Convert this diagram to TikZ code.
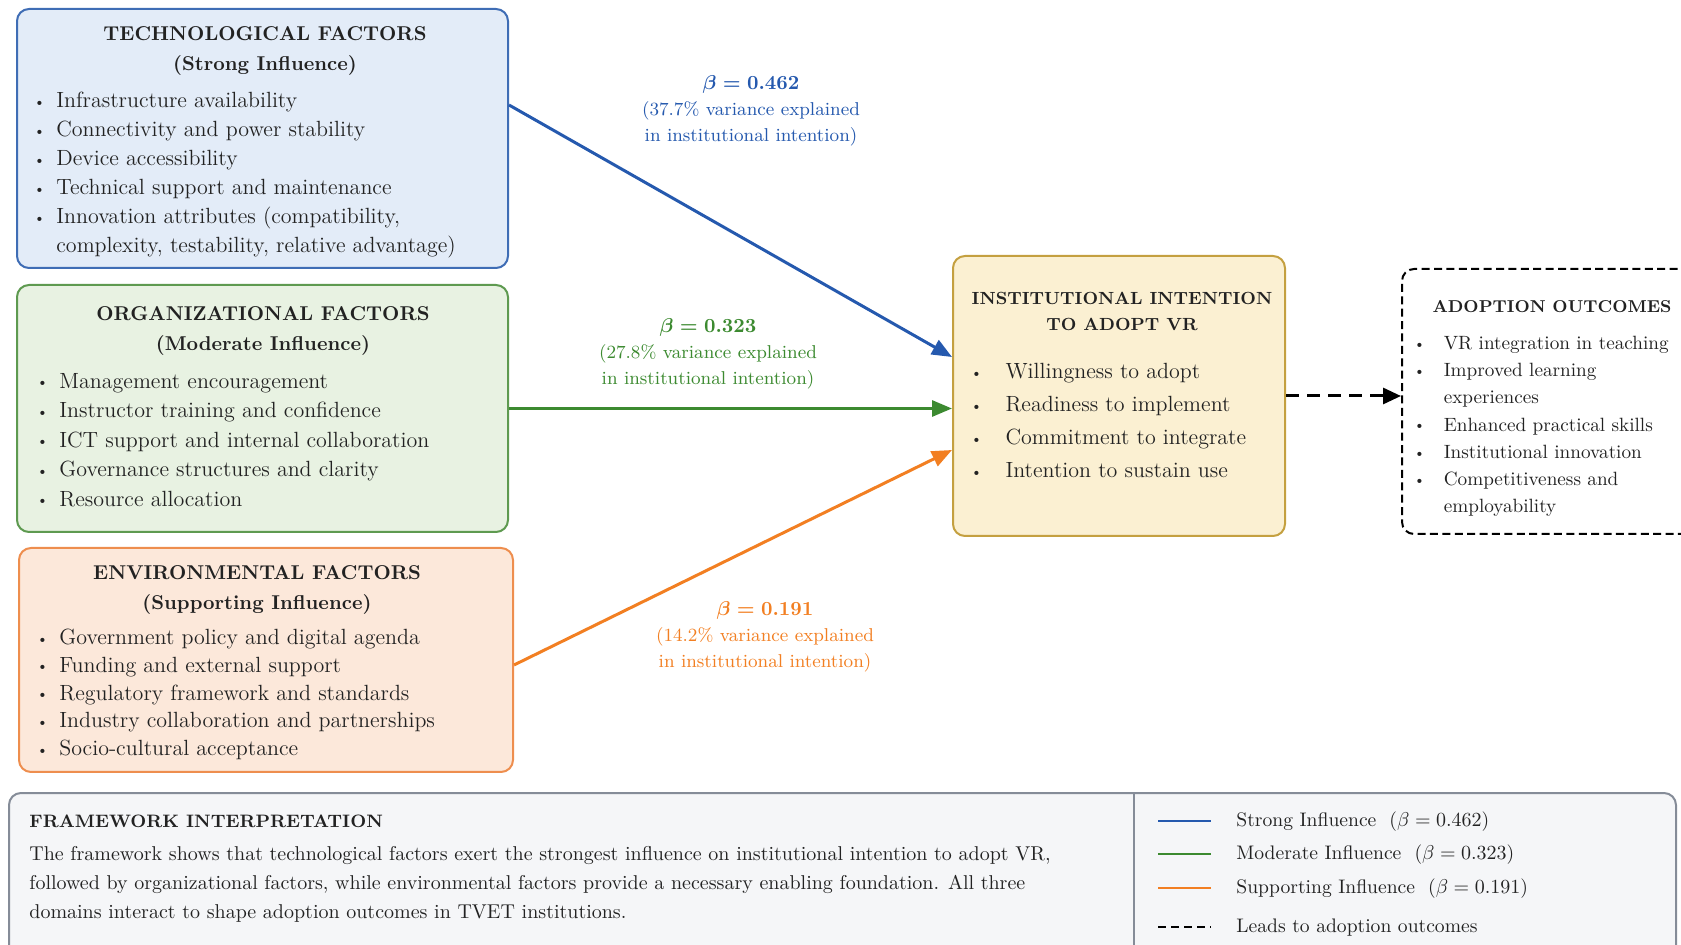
\documentclass[tikz,border=0pt]{standalone}
\usepackage{amsmath}
\usepackage{amssymb}
\usetikzlibrary{arrows.meta}

\definecolor{strongblue}{HTML}{2559AE}
\definecolor{techfill}{HTML}{E3ECF8}
\definecolor{techline}{HTML}{3F6DB5}
\definecolor{modgreen}{HTML}{3C8A30}
\definecolor{orgfill}{HTML}{E8F2E2}
\definecolor{orgline}{HTML}{5E9A50}
\definecolor{suporange}{HTML}{F27F22}
\definecolor{envfill}{HTML}{FCE8DA}
\definecolor{envline}{HTML}{EE8E4E}
\definecolor{intentfill}{HTML}{FBF0D2}
\definecolor{intentline}{HTML}{C4A040}
\definecolor{notefill}{HTML}{F5F6F8}
\definecolor{noteline}{HTML}{858C98}
\definecolor{inktext}{HTML}{222222}

\newcommand{\itembul}[1][11.5pt]{\makebox[#1][l]{\raisebox{.15ex}{\scriptsize\textbullet}}}
\newcommand{\itempad}[1][11.5pt]{\hspace*{#1}}

\begin{document}
\begin{tikzpicture}[x=0.5pt, y=-0.5pt, text=inktext,
	factor/.style={rectangle, rounded corners=6pt, line width=1pt, inner sep=0pt},
	heading/.style={align=center, inner sep=0pt, font=\bfseries\fontsize{10}{15}\selectfont},
	items/.style={anchor=west, align=left, inner sep=0pt, font=\fontsize{11}{14.5}\selectfont},
	betalabel/.style={align=center, inner sep=0pt, font=\fontsize{9.3}{13}\selectfont},
	influence/.style={line width=1.5pt, -{Triangle[length=10pt,width=8pt]}},
	legendline/.style={line width=1.4pt},
	legendtext/.style={anchor=west, inner sep=0pt, font=\fontsize{9.8}{12}\selectfont}]
	\useasboundingbox (0,0) rectangle (1681,945);
	% boxes
	\node[factor, draw=techline, fill=techfill, minimum width=245.5pt, minimum height=129.5pt] (tech) at (262.5,138.5) {};
	\node[factor, draw=orgline, fill=orgfill, minimum width=245.5pt, minimum height=123.5pt] (org) at (262.5,408.5) {};
	\node[factor, draw=envline, fill=envfill, minimum width=247pt, minimum height=112pt] (env) at (266,660) {};
	\node[factor, draw=intentline, fill=intentfill, minimum width=166pt, minimum height=140pt] (intent) at (1119,396) {};
	\node[factor, draw=black, fill=white, dash pattern=on 4pt off 2.2pt, minimum width=150pt, minimum height=132.5pt] (outcome) at (1552,401.5) {};
	\node[factor, draw=noteline, fill=notefill, minimum width=833.5pt, minimum height=96pt] (note) at (842.5,889) {};
	% technological
	\node[heading] (techtitle) at (265,51) {TECHNOLOGICAL FACTORS\\(Strong Influence)};
	\node[items] (techlist) at (33,175.5) {\itembul Infrastructure availability\\
		\itembul Connectivity and power stability\\
		\itembul Device accessibility\\
		\itembul Technical support and maintenance\\
		\itembul Innovation attributes (compatibility,\\
		\itempad complexity, testability, relative advantage)};
	% organizational
	\node[heading] (orgtitle) at (263,331.5) {ORGANIZATIONAL FACTORS\\(Moderate Influence)};
	\node[items, font=\fontsize{11}{14.75}\selectfont] (orglist) at (36,440) {\itembul Management encouragement\\
		\itembul Instructor training and confidence\\
		\itembul ICT support and internal collaboration\\
		\itembul Governance structures and clarity\\
		\itembul Resource allocation};
	% environmental
	\node[heading] (envtitle) at (257,590) {ENVIRONMENTAL FACTORS\\(Supporting Influence)};
	\node[items, font=\fontsize{11}{13.9}\selectfont] (envlist) at (36,694.5) {\itembul Government policy and digital agenda\\
		\itembul Funding and external support\\
		\itembul Regulatory framework and standards\\
		\itembul Industry collaboration and partnerships\\
		\itembul Socio-cultural acceptance};
	% intention
	\node[heading, font=\bfseries\fontsize{8.8}{13}\selectfont] (intenttitle) at (1122,311) {INSTITUTIONAL INTENTION\\TO ADOPT VR};
	\node[items, font=\fontsize{11}{16.5}\selectfont] (intentlist) at (970,420.5) {\itembul[14pt] Willingness to adopt\\
		\itembul[14pt] Readiness to implement\\
		\itembul[14pt] Commitment to integrate\\
		\itembul[14pt] Intention to sustain use};
	% outcomes
	\node[heading, font=\bfseries\fontsize{8.6}{13}\selectfont] (outcometitle) at (1552,307) {ADOPTION OUTCOMES};
	\node[items, font=\fontsize{9.6}{13.6}\selectfont] (outcomelist) at (1413,426.5) {\itembul[12pt] VR integration in teaching\\
		\itembul[12pt] Improved learning\\
		\itempad[12pt] experiences\\
		\itembul[12pt] Enhanced practical skills\\
		\itembul[12pt] Institutional innovation\\
		\itembul[12pt] Competitiveness and\\
		\itempad[12pt] employability};
	% paths
	\draw[influence, strongblue] ([yshift=16.75pt]tech.east) -- ([yshift=19.5pt]intent.west);
	\draw[influence, modgreen] (org.east) -- (org.east -| intent.west);
	\draw[influence, suporange] ([yshift=-2.5pt]env.east) -- ([yshift=-27pt]intent.west);
	\draw[line width=1.5pt, dash pattern=on 6.5pt off 4pt, -{Triangle[length=9pt,width=8pt]}] (intent.east) -- (intent.east -| outcome.west);
	\node[betalabel, text=strongblue] (betatech) at (751,111) {{\fontsize{10}{13}\selectfont\boldmath$\beta = 0.462$}\\(37.7\% variance explained\\in institutional intention)};
	\node[betalabel, text=modgreen] (betaorg) at (708,354) {{\fontsize{10}{13}\selectfont\boldmath$\beta = 0.323$}\\(27.8\% variance explained\\in institutional intention)};
	\node[betalabel, text=suporange] (betaenv) at (765,637) {{\fontsize{10}{13}\selectfont\boldmath$\beta = 0.191$}\\(14.2\% variance explained\\in institutional intention)};
	% interpretation
	\node[anchor=west, inner sep=0pt, font=\bfseries\fontsize{9}{12}\selectfont] (notetitle) at (29,821) {FRAMEWORK INTERPRETATION};
	\node[anchor=west, align=left, inner sep=0pt, font=\fontsize{10}{14.5}\selectfont] (notetext) at (29,884) {The framework shows that technological factors exert the strongest influence on institutional intention to adopt VR,\\
		followed by organizational factors, while environmental factors provide a necessary enabling foundation. All three\\
		domains interact to shape adoption outcomes in TVET institutions.};
	\draw[noteline, line width=1pt] (1134,793) -- (1134,960);
	% legend
	\draw[legendline, strongblue] (1158,821) -- (1211,821);
	\draw[legendline, modgreen] (1158,854) -- (1211,854);
	\draw[legendline, suporange] (1158,888) -- (1211,888);
	\draw[legendline, black, dash pattern=on 4pt off 2.5pt] (1158,927) -- (1211,927);
	\node[legendtext] (lgstrong) at (1236,822) {Strong Influence~~($\beta = 0.462$)};
	\node[legendtext] (lgmoderate) at (1236,855) {Moderate Influence~~($\beta = 0.323$)};
	\node[legendtext] (lgsupport) at (1236,889) {Supporting Influence~~($\beta = 0.191$)};
	\node[legendtext] (lgleads) at (1236,928) {Leads to adoption outcomes};
\end{tikzpicture}
\end{document}
